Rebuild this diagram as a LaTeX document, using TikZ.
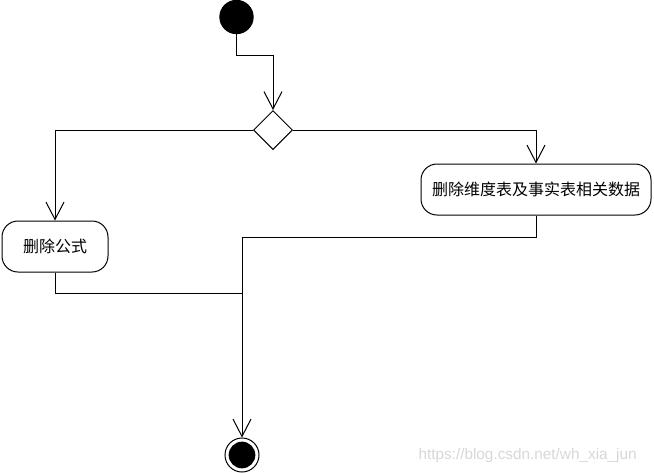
\documentclass[tikz,border=0pt]{standalone}
\usepackage{fontspec}
\newfontfamily\cjk{Noto Sans CJK SC}
\newfontfamily\wm{Liberation Sans}
\usetikzlibrary{shapes.geometric,arrows.meta}
\definecolor{wmgray}{RGB}{215,215,215}
\begin{document}
\begin{tikzpicture}[x=0.75pt,y=-0.75pt,
  line width=0.75pt,
  arr/.style={-{Straight Barb[length=13pt,width=13.5pt,line width=0.75pt]}},
  act/.style={draw,rounded corners=12pt,minimum height=38.25pt,font=\cjk\fontsize{12pt}{14pt}\selectfont,inner sep=0pt},
  dec/.style={draw,diamond,minimum width=29.25pt,minimum height=29.25pt,inner sep=0pt,aspect=1}]
\useasboundingbox (0,0) rectangle (654,472);
\node[circle,fill=black,draw,minimum size=25pt,inner sep=0pt] (start) at (236.5,17) {};
\node[dec] (d) at (273,130) {};
\node[act,minimum width=79.5pt] (b1) at (55,246.5) {删除公式};
\node[act,minimum width=172.5pt] (b2) at (536,189.5) {删除维度表及事实表相关数据};
\node[circle,draw,fill=white,minimum size=25.5pt,inner sep=0pt] (end) at (242,455) {};
\node[circle,fill=black,minimum size=20pt,inner sep=0pt] (endin) at (end.center) {};
\coordinate (j) at (242,237);
\coordinate (m) at (242,293);
\draw[arr] (start.south) -- (start.south |- 0,55) -| (d.north);
\draw[arr] (d.west) -| (b1.north);
\draw[arr] (d.east) -| (b2.north);
\draw (b2.south) |- (j);
\draw (b1.south) |- (m);
\draw[arr] (j) -- (end.north);
\node[text=wmgray,font=\wm\fontsize{11.5pt}{13pt}\selectfont,anchor=west,inner sep=0pt] (wmk) at (418,456) {https://blog.csdn.net/wh\_xia\_jun};
\end{tikzpicture}
\end{document}
